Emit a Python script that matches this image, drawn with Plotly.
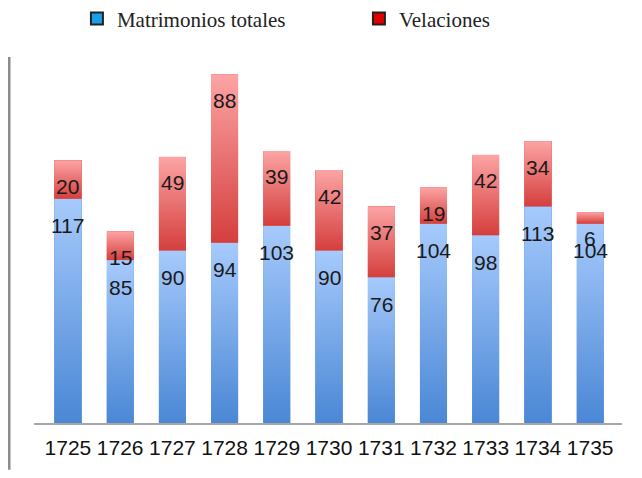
import plotly.graph_objects as go

# Datos: matrimonios por año (azul) y velaciones (rojo, apiladas encima)
years = [1725, 1726, 1727, 1728, 1729, 1730, 1731, 1732, 1733, 1734, 1735]
matrimonios = [117, 85, 90, 94, 103, 90, 76, 104, 98, 113, 104]
velaciones = [20, 15, 49, 88, 39, 42, 37, 19, 42, 34, 6]

bar_w = 0.52
sans = "Liberation Sans, Arial, sans-serif"
label_font = dict(family=sans, size=21, color="#1a1a1a")

blue_scale = [[0, "#4a87d5"], [1, "#a6cafc"]]
red_scale = [[0, "#d43f3d"], [1, "#fca4a4"]]

fig = go.Figure()

# Barras base (para hover); el degradado se dibuja encima
fig.add_trace(go.Bar(x=years, y=matrimonios, width=bar_w, marker=dict(color="#78a8e8", line=dict(width=0)),
                     showlegend=False, name="Matrimonios totales"))
fig.add_trace(go.Bar(x=years, y=velaciones, width=bar_w, marker=dict(color="#ea7474", line=dict(width=0)),
                     showlegend=False, name="Velaciones"))


def gradient_segment(x, y0, y1, scale):
    return go.Scatter(
        x=[x - bar_w / 2, x + bar_w / 2, x + bar_w / 2, x - bar_w / 2, x - bar_w / 2],
        y=[y0, y0, y1, y1, y0],
        mode="lines", line=dict(width=0), fill="toself",
        fillgradient=dict(type="vertical", colorscale=scale),
        showlegend=False, hoverinfo="skip",
    )


for yr, m, v in zip(years, matrimonios, velaciones):
    fig.add_trace(gradient_segment(yr, 0, m, blue_scale))
    fig.add_trace(gradient_segment(yr, m, m + v, red_scale))

# Entradas de leyenda
fig.add_trace(go.Bar(x=[None], y=[None], name="Matrimonios totales",
                     marker=dict(color="#1a9fe6", line=dict(color="#222", width=2))))
fig.add_trace(go.Bar(x=[None], y=[None], name="Velaciones",
                     marker=dict(color="#e00000", line=dict(color="#222", width=2))))

# Etiquetas de valores
annotations = []
for yr, m, v in zip(years, matrimonios, velaciones):
    annotations.append(dict(x=yr, y=m, text=str(m), showarrow=False, yshift=-27, font=label_font))
    annotations.append(dict(x=yr, y=m + v, text=str(v), showarrow=False, yshift=-26, font=label_font))

# la página añade 8 px de margen al cuerpo: se compensa aquí
fig.update_layout(
    width=634, height=470,
    barmode="stack",
    paper_bgcolor="white", plot_bgcolor="white",
    margin=dict(l=26, r=20, t=49, b=55, autoexpand=False),
    annotations=annotations,
    legend=dict(orientation="h", x=0.073, y=1.104, yanchor="middle", xanchor="left",
                traceorder="normal",
                font=dict(family="Liberation Serif, Times New Roman, serif", size=21, color="#222"),
                entrywidth=237, bgcolor="rgba(0,0,0,0)"),
    shapes=[dict(type="line", xref="paper", yref="paper", x0=-0.0425, x1=-0.0425, y0=1, y1=-0.128,
                 line=dict(color="#8c8c8c", width=3))],
    xaxis=dict(tickmode="array", tickvals=years, ticktext=[str(y) for y in years],
               range=[1724.35, 1735.61], showgrid=False, zeroline=False,
               showline=True, linecolor="#a6a6a6", linewidth=2, ticks="",
               tickangle=0, ticklabelstandoff=5,
               tickfont=dict(family=sans, size=21, color="#111")),
    yaxis=dict(range=[0, 191], visible=False, fixedrange=True),
)

fig.write_html("out.html")
